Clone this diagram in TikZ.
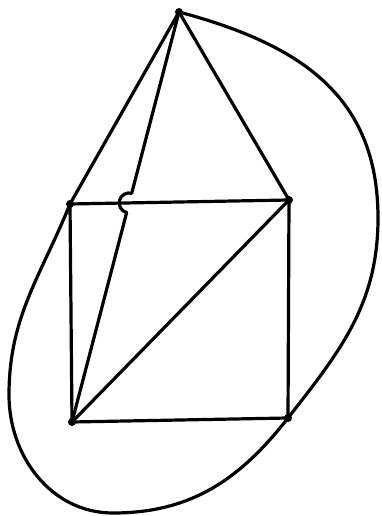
\documentclass[tikz,border=0pt]{standalone}
\usetikzlibrary{calc}
\begin{document}
\begin{tikzpicture}[x=1pt,y=1pt,
  edge/.style={line width=3.2pt,line cap=round,line join=round},
  vtx/.style={circle,fill=black,inner sep=0pt,minimum size=8pt}]
\fill[white] (0,0) rectangle (381,516);
\useasboundingbox (0,0) rectangle (381,516);
\node[vtx] (T) at (179,504) {};
\node[vtx] (A) at (70,312) {};
\node[vtx] (B) at (289,316) {};
\node[vtx] (C) at (72,94) {};
\node[vtx] (D) at (288,98) {};
\coordinate (R) at (378,298);
\coordinate (Bot) at (113,3);
\coordinate (L) at (9,121);
% square and diagonal
\draw[edge] (A.center) -- (B.center) -- (D.center) -- (C.center) -- (A.center);
\draw[edge] (C.center) -- (B.center);
\draw[edge] (T.center) -- (A.center);
\draw[edge] (T.center) -- (B.center);
% T--C with a hop over A--B
\coordinate (X) at (intersection of T.center--C.center and A.center--B.center);
\draw[edge] let \p1=($(T.center)-(C.center)$), \n1={atan2(\y1,\x1)} in
  (T.center) -- ($(X)!10pt!(T.center)$)
  arc[start angle=\n1, end angle=\n1+180, radius=10pt]
  -- (C.center);
% outer curve
\draw[edge] (T.center) to[out=-15,in=90,looseness=1.1] (R) to[out=-90,in=52] (D.center)
  to[out=-128,in=0] (Bot) to[out=180,in=-90] (L) to[out=90,in=-112] (A.center);
\end{tikzpicture}
\end{document}
